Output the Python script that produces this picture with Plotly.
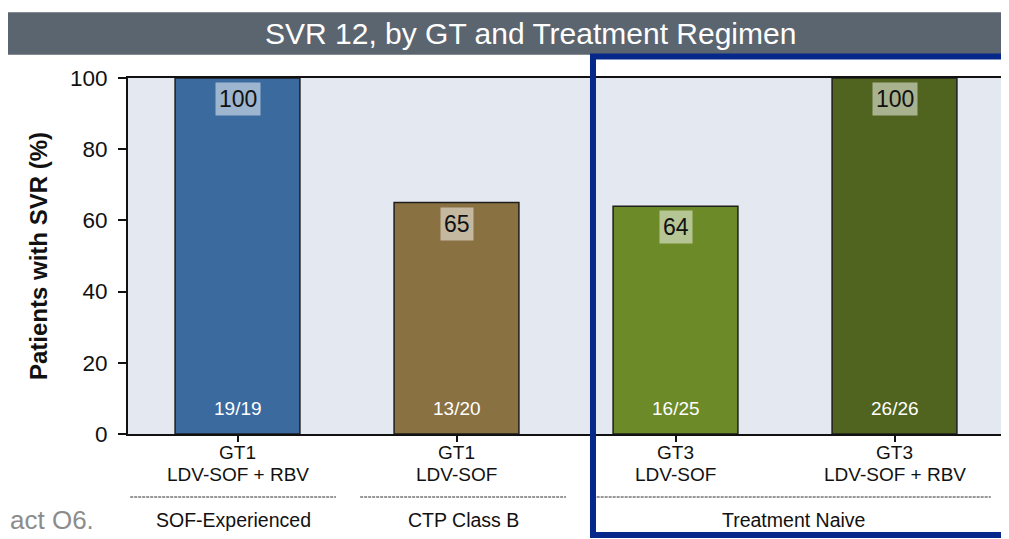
import plotly.graph_objects as go

gt_labels = ["GT1", "GT1", "GT3", "GT3"]
regimens = ["LDV-SOF + RBV", "LDV-SOF", "LDV-SOF", "LDV-SOF + RBV"]
svr_values = [100, 65, 64, 100]
n_labels = ["19/19", "13/20", "16/25", "26/26"]
bar_colors = ["#3a6a9e", "#8a7142", "#6d8a29", "#50641f"]
groups = ["SOF-Experienced", "CTP Class B", "Treatment Naive"]
group_spans = [(-0.49, 0.45), (0.56, 1.5), (1.64, 3.44)]
y_ticks = [0, 20, 40, 60, 80, 100]

FONT = "Liberation Sans, Arial, sans-serif"
x_idx = list(range(len(svr_values)))

fig = go.Figure()
fig.add_trace(go.Bar(
    x=x_idx, y=svr_values, width=0.57,
    marker=dict(color=bar_colors, line=dict(color="#1e1e1e", width=1.5)),
    hoverinfo="skip",
))

annotations = []
for i, (v, n) in enumerate(zip(svr_values, n_labels)):
    annotations.append(dict(x=i, y=v, xref="x", yref="y", text=str(v), showarrow=False,
                            yanchor="top", yshift=-4, font=dict(size=23, color="#111", family=FONT),
                            bgcolor="rgba(255,255,255,0.5)", borderpad=3))
    annotations.append(dict(x=i, y=0, xref="x", yref="y", text=n, showarrow=False,
                            yanchor="bottom", yshift=13, font=dict(size=19, color="white", family=FONT)))
    annotations.append(dict(x=i, y=-0.0506, xref="x", yref="paper", text=gt_labels[i], showarrow=False,
                            yanchor="middle", font=dict(size=19, color="#111", family=FONT)))
    annotations.append(dict(x=i, y=-0.1124, xref="x", yref="paper", text=regimens[i], showarrow=False,
                            yanchor="middle", font=dict(size=19, color="#111", family=FONT)))

shapes = []
for g, (a, b) in zip(groups, group_spans):
    shapes.append(dict(type="line", xref="x", yref="paper", x0=a, x1=b, y0=-0.177, y1=-0.177,
                       line=dict(color="#333", width=1.2, dash="3px,1px")))
    annotations.append(dict(x=(a + b) / 2, y=-0.2416, xref="x", yref="paper", text=g, showarrow=False,
                            yanchor="middle", font=dict(size=19.5, color="#111", family=FONT)))

# title banner
shapes.append(dict(type="rect", xref="paper", yref="paper", x0=-0.15, x1=1.05, y0=1.065, y1=1.185,
                   fillcolor="#5b6570", line=dict(width=0), layer="below"))
annotations.append(dict(x=0.4597, y=1.125, xref="paper", yref="paper", text="SVR 12, by GT and Treatment Regimen",
                        showarrow=False, font=dict(size=30, color="white", family=FONT), xanchor="center",
                        yanchor="middle"))
# blue highlight box
shapes.append(dict(type="rect", xref="paper", yref="paper", x0=0.5308, x1=1.03, y0=-0.2837, y1=1.0604,
                   line=dict(color="#05288a", width=6), fillcolor="rgba(0,0,0,0)", layer="above"))
# cropped footnote text
annotations.append(dict(x=-0.1367, y=-0.2416, xref="paper", yref="paper", text="act O6.", showarrow=False,
                        xanchor="left", yanchor="middle", font=dict(size=26, color="#8c8c8c", family=FONT)))

fig.update_layout(
    width=1001, height=531,
    margin=dict(l=120, r=3, t=70, b=105),
    paper_bgcolor="white", plot_bgcolor="#e4e8f0",
    showlegend=False,
    font=dict(family=FONT),
    shapes=shapes, annotations=annotations,
)
fig.update_xaxes(
    tickmode="array", tickvals=x_idx, ticktext=["", "", "", ""], range=[-0.5, 3.5],
    ticks="outside", tickson="boundaries", ticklen=6,
    tickcolor="#111", tickwidth=2, showline=True, linecolor="#111", linewidth=2, mirror=True,
    showgrid=False, zeroline=False,
)
fig.update_yaxes(
    range=[0, 100], tickvals=y_ticks, tickfont=dict(size=22.5, color="#111"),
    ticks="outside", ticklen=8, tickcolor="#111", tickwidth=2, ticklabelstandoff=6,
    showline=True, linecolor="#111", linewidth=2, mirror=True, showgrid=False, zeroline=False,
    title=dict(text="<b>Patients with SVR (%)</b>", font=dict(size=24, color="#111"), standoff=16),
)
fig.write_html("out.html")
